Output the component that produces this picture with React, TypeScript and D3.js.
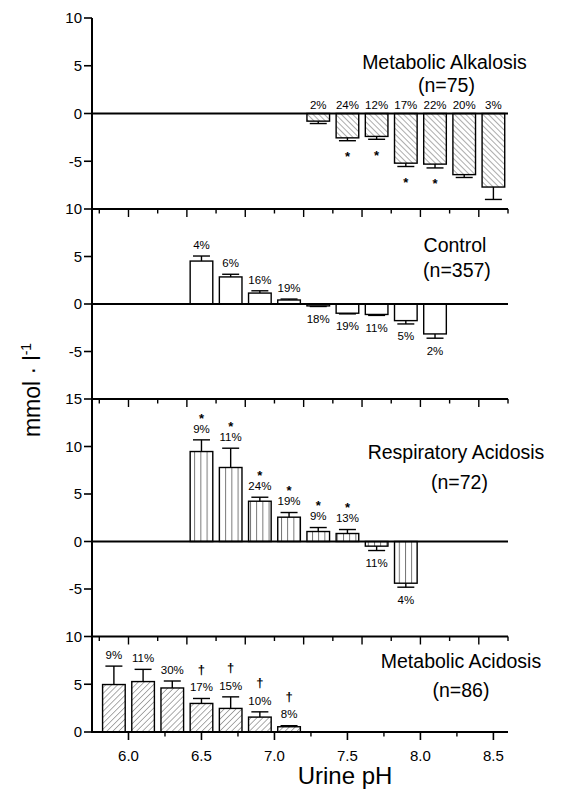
import React from 'react';
import * as d3 from 'd3';

const W = 566;
const H = 790;
const FONT = '"Liberation Sans", Arial, Helvetica, sans-serif';

// ---------- data ----------
// Metabolic Alkalosis (n=75)
const alkPH = [7.3, 7.5, 7.7, 7.9, 8.1, 8.3, 8.5];
const alkMean = [-0.8, -2.55, -2.4, -5.2, -5.3, -6.4, -7.7];
const alkSE = [0.25, 0.3, 0.3, 0.35, 0.4, 0.3, 1.3];
const alkPct = ['2%', '24%', '12%', '17%', '22%', '20%', '3%'];
const alkSig = ['', '*', '*', '*', '*', '', ''];

// Control (n=357)
const ctlPH = [6.5, 6.7, 6.9, 7.1, 7.3, 7.5, 7.7, 7.9, 8.1];
const ctlMean = [4.52, 2.85, 1.15, 0.42, -0.2, -0.97, -1.1, -1.75, -3.15];
const ctlSE = [0.53, 0.28, 0.24, 0.1, 0.06, 0.07, 0.1, 0.35, 0.45];
const ctlPct = ['4%', '6%', '16%', '19%', '18%', '19%', '11%', '5%', '2%'];
const ctlSig = ['', '', '', '', '', '', '', '', ''];

// Respiratory Acidosis (n=72)
const raPH = [6.5, 6.7, 6.9, 7.1, 7.3, 7.5, 7.7, 7.9];
const raMean = [9.47, 7.79, 4.24, 2.56, 1.05, 0.84, -0.49, -4.39];
const raSE = [1.23, 2.03, 0.42, 0.49, 0.42, 0.42, 0.46, 0.42];
const raPct = ['9%', '11%', '24%', '19%', '9%', '13%', '11%', '4%'];
const raSig = ['*', '*', '*', '*', '*', '*', '', ''];

// Metabolic Acidosis (n=86)
const maPH = [5.9, 6.1, 6.3, 6.5, 6.7, 6.9, 7.1];
const maMean = [4.97, 5.28, 4.61, 2.99, 2.47, 1.56, 0.55];
const maSE = [1.93, 1.28, 0.73, 0.52, 1.21, 0.55, 0.11];
const maPct = ['9%', '11%', '30%', '17%', '15%', '10%', '8%'];
const maSig = ['', '', '', '\u2020', '\u2020', '\u2020', '\u2020'];

// axes
const xTickValues = [6.0, 6.5, 7.0, 7.5, 8.0, 8.5];
const xTickLabels = ['6.0', '6.5', '7.0', '7.5', '8.0', '8.5'];
const xMinorTicks = [6.25, 6.75, 7.25, 7.75, 8.25];
const binTicks = [5.8, 6.0, 6.2, 6.4, 6.6, 6.8, 7.0, 7.2, 7.4, 7.6, 7.8, 8.0, 8.2, 8.4, 8.6];
const binMajorTicks = [6.0, 6.4, 6.8, 7.2, 7.6, 8.0, 8.4];
const xDomain = [5.75, 8.6];
const binWidth = 0.155;

const alkYTicks = [10, 5, 0, -5];
const ctlYTicks = [10, 5, 0, -5];
const raYTicks = [15, 10, 5, 0, -5];
const maYTicks = [10, 5, 0];

type Panel = {
  ph: number[];
  mean: number[];
  se: number[];
  pct: string[];
  sig: string[];
  domain: [number, number];
  top: number;
  bottom: number;
  yTicks: number[];
  fill: string;
  title: string;
  n: string;
  tx1: number;
  tx2: number;
  ty1: number;
  ty2: number;
  pctMode: 'zero' | 'outside';
  sigMode: 'below' | 'above';
  topBorder: boolean;
};

const panels: Panel[] = [
  {
    ph: alkPH, mean: alkMean, se: alkSE, pct: alkPct, sig: alkSig,
    domain: [-10, 10], top: 18, bottom: 209, yTicks: alkYTicks,
    fill: 'url(#hatchBack)', title: 'Metabolic Alkalosis', n: '(n=75)',
    tx1: 444.5, tx2: 446.5, ty1: 69, ty2: 92, pctMode: 'zero', sigMode: 'below', topBorder: false,
  },
  {
    ph: ctlPH, mean: ctlMean, se: ctlSE, pct: ctlPct, sig: ctlSig,
    domain: [-10, 10], top: 209, bottom: 399, yTicks: ctlYTicks,
    fill: '#fff', title: 'Control', n: '(n=357)',
    tx1: 455, tx2: 457, ty1: 252, ty2: 277, pctMode: 'outside', sigMode: 'above', topBorder: true,
  },
  {
    ph: raPH, mean: raMean, se: raSE, pct: raPct, sig: raSig,
    domain: [-10, 15], top: 399, bottom: 636.5, yTicks: raYTicks,
    fill: 'url(#hatchVert)', title: 'Respiratory Acidosis', n: '(n=72)',
    tx1: 456, tx2: 459.5, ty1: 459, ty2: 489, pctMode: 'outside', sigMode: 'above', topBorder: true,
  },
  {
    ph: maPH, mean: maMean, se: maSE, pct: maPct, sig: maSig,
    domain: [0, 10], top: 636.5, bottom: 732, yTicks: maYTicks,
    fill: 'url(#hatchFwd)', title: 'Metabolic Acidosis', n: '(n=86)',
    tx1: 461, tx2: 461, ty1: 668, ty2: 697, pctMode: 'outside', sigMode: 'above', topBorder: true,
  },
];

const AXIS_X = 92;
const RIGHT_X = 508;

export default function App() {
  const x = d3.scaleLinear().domain(xDomain).range([AXIS_X, RIGHT_X]);
  const bw = x(xDomain[0] + binWidth) - x(xDomain[0]);
  const cap = 17;

  return (
    <svg
      width={W}
      height={H}
      viewBox={`0 0 ${W} ${H}`}
      style={{ position: 'absolute', left: 0, top: 0, background: '#fff' }}
      fontFamily={FONT}
    >
      <defs>
        <pattern id="hatchBack" patternUnits="userSpaceOnUse" width={4} height={4} patternTransform="rotate(-45)">
          <line x1={0} y1={0} x2={0} y2={4} stroke="#222" strokeWidth={0.75} />
        </pattern>
        <pattern id="hatchFwd" patternUnits="userSpaceOnUse" width={4.2} height={4.2} patternTransform="rotate(45)">
          <line x1={0} y1={0} x2={0} y2={4.2} stroke="#222" strokeWidth={0.75} />
        </pattern>
        <pattern id="hatchVert" patternUnits="userSpaceOnUse" width={6.2} height={6} x={2}>
          <line x1={0.5} y1={0} x2={0.5} y2={6} stroke="#555" strokeWidth={0.85} />
        </pattern>
      </defs>
      <rect x={0} y={0} width={W} height={H} fill="#fff" />

      {panels.map((p, pi) => {
        const y = d3.scaleLinear().domain(p.domain).range([p.bottom, p.top]);
        const y0 = y(0);
        return (
          <g key={pi}>
            {/* bars */}
            {p.mean.map((m, i) => {
              const cx = x(p.ph[i]);
              const ym = y(m);
              return (
                <rect
                  key={'b' + i}
                  x={cx - bw / 2}
                  y={Math.min(ym, y0)}
                  width={bw}
                  height={Math.abs(ym - y0)}
                  fill={p.fill}
                  stroke="#000"
                  strokeWidth={1.4}
                />
              );
            })}
            {/* error bars */}
            {p.mean.map((m, i) => {
              const cx = x(p.ph[i]);
              const end = m >= 0 ? m + p.se[i] : m - p.se[i];
              const ye = y(end);
              return (
                <g key={'e' + i} stroke="#000" strokeWidth={1.4}>
                  <line x1={cx} x2={cx} y1={y(m)} y2={ye} />
                  <line x1={cx - cap / 2} x2={cx + cap / 2} y1={ye} y2={ye} />
                </g>
              );
            })}
            {/* zero line */}
            <line x1={AXIS_X} x2={RIGHT_X} y1={y0} y2={y0} stroke="#000" strokeWidth={2} />
            {/* top border with bin ticks */}
            {p.topBorder && (
              <g stroke="#000">
                <line x1={AXIS_X} x2={RIGHT_X} y1={p.top} y2={p.top} strokeWidth={1.8} />
                {binTicks.map((t, i) => (
                  <line
                    key={'bt' + i}
                    x1={x(t)}
                    x2={x(t)}
                    y1={p.top}
                    y2={p.top + (binMajorTicks.some((v) => Math.abs(v - t) < 1e-6) ? 8 : 4.5)}
                    strokeWidth={1.4}
                  />
                ))}
              </g>
            )}
            {/* y ticks */}
            {p.yTicks.map((t, i) => (
              <g key={'yt' + i}>
                <line x1={AXIS_X - 8} x2={AXIS_X} y1={y(t)} y2={y(t)} stroke="#000" strokeWidth={1.6} />
                <text x={82} y={y(t) + 5.3} fontSize={15} textAnchor="end" fill="#000">
                  {String(t)}
                </text>
              </g>
            ))}
            {/* percentage labels */}
            {p.mean.map((m, i) => {
              const cx = x(p.ph[i]);
              const end = m >= 0 ? m + p.se[i] : m - p.se[i];
              const ye = y(end);
              let base: number;
              if (p.pctMode === 'zero') base = y0 - 5;
              else base = m >= 0 ? ye - 7.2 : ye + 16.5;
              const center = base - 4.1;
              const s = p.sig[i];
              let sigEl = null;
              if (s) {
                if (p.sigMode === 'below') {
                  sigEl = (
                    <text x={cx} y={ye + 13 + 7.5} fontSize={13} fontWeight="bold" textAnchor="middle">
                      {s}
                    </text>
                  );
                } else if (s === '*') {
                  sigEl = (
                    <text x={cx} y={center - 13.5 + 7.5} fontSize={13} fontWeight="bold" textAnchor="middle">
                      {s}
                    </text>
                  );
                } else {
                  sigEl = (
                    <text x={cx} y={center - 13.5} fontSize={13} fontWeight="bold" textAnchor="middle">
                      {s}
                    </text>
                  );
                }
              }
              return (
                <g key={'l' + i} fill="#000">
                  <text x={cx} y={base} fontSize={11.5} textAnchor="middle">
                    {p.pct[i]}
                  </text>
                  {sigEl}
                </g>
              );
            })}
            {/* titles */}
            <text x={p.tx1} y={p.ty1} fontSize={19.5} textAnchor="middle" fill="#000">
              {p.title}
            </text>
            <text x={p.tx2} y={p.ty2} fontSize={19.5} textAnchor="middle" fill="#000">
              {p.n}
            </text>
          </g>
        );
      })}

      {/* y axis line */}
      <line x1={AXIS_X} x2={AXIS_X} y1={18} y2={733} stroke="#000" strokeWidth={2} />

      {/* bottom x axis ticks */}
      {xTickValues.map((t, i) => (
        <g key={'xt' + i}>
          <line x1={x(t)} x2={x(t)} y1={732} y2={740} stroke="#000" strokeWidth={1.6} />
          <text x={x(t)} y={761} fontSize={15} textAnchor="middle" fill="#000">
            {xTickLabels[i]}
          </text>
        </g>
      ))}
      {xMinorTicks.map((t, i) => (
        <line key={'xm' + i} x1={x(t)} x2={x(t)} y1={732} y2={736.5} stroke="#000" strokeWidth={1.4} />
      ))}

      {/* axis titles */}
      <text x={345} y={783.5} fontSize={24} textAnchor="middle" fill="#000">
        Urine pH
      </text>
      <text transform="translate(40,390) rotate(-90)" fontSize={23} textAnchor="middle" fill="#000">
        mmol · l
        <tspan fontSize={14} dy={-9}>-1</tspan>
      </text>
    </svg>
  );
}
